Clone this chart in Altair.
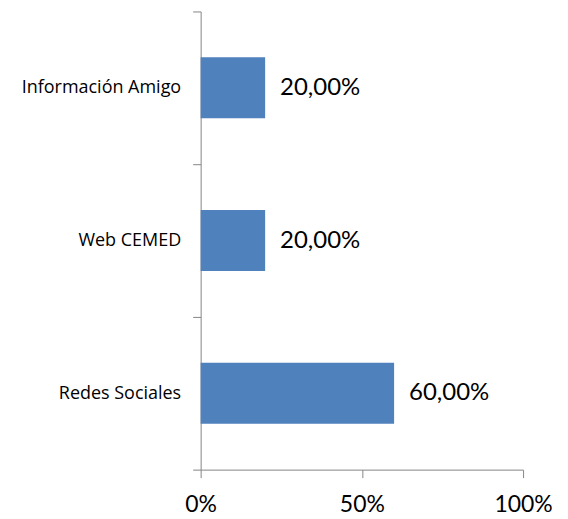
import altair as alt
import pandas as pd

categories = ["Información Amigo", "Web CEMED", "Redes Sociales"]
values = [0.20, 0.20, 0.60]
labels = ["20,00%", "20,00%", "60,00%"]

df = pd.DataFrame({"cat": categories, "val": values, "lab": labels})

FONT = "Lato"

base = alt.Chart(df).encode(
    y=alt.Y("cat:N", sort=categories, title=None,
            scale=alt.Scale(paddingInner=0, paddingOuter=0),
            axis=alt.Axis(tickBand="extent", tickSize=8, tickColor="#868686",
                          domainColor="#868686", labelFont="Open Sans", labelFontSize=18,
                          labelColor="#000000", labelPadding=12, grid=False)),
)

bars = base.mark_bar(color="#4F81BD", height=alt.RelativeBandSize(0.4)).encode(
    x=alt.X("val:Q", title=None,
            scale=alt.Scale(domain=[0, 1]),
            axis=alt.Axis(values=[0, 0.5, 1], format=".0%", tickSize=8,
                          tickColor="#868686", domainColor="#868686",
                          labelFont=FONT, labelFontSize=23, labelColor="#000000",
                          labelPadding=16, grid=False, labelFlush=False))
)

text = base.mark_text(align="left", baseline="middle", dx=15, font=FONT,
                      fontSize=24, color="#000000").encode(
    x="val:Q", text="lab:N"
)

chart = (bars + text).properties(
    width=323, height=459,
    autosize=alt.AutoSizeParams(type="none"),
    padding={"left": 193, "top": 3, "right": 37, "bottom": 60},
).configure_view(stroke=None).configure_axis(domainWidth=1, tickWidth=1)

chart.save("out.html", embed_options={"renderer": "svg", "actions": False})
